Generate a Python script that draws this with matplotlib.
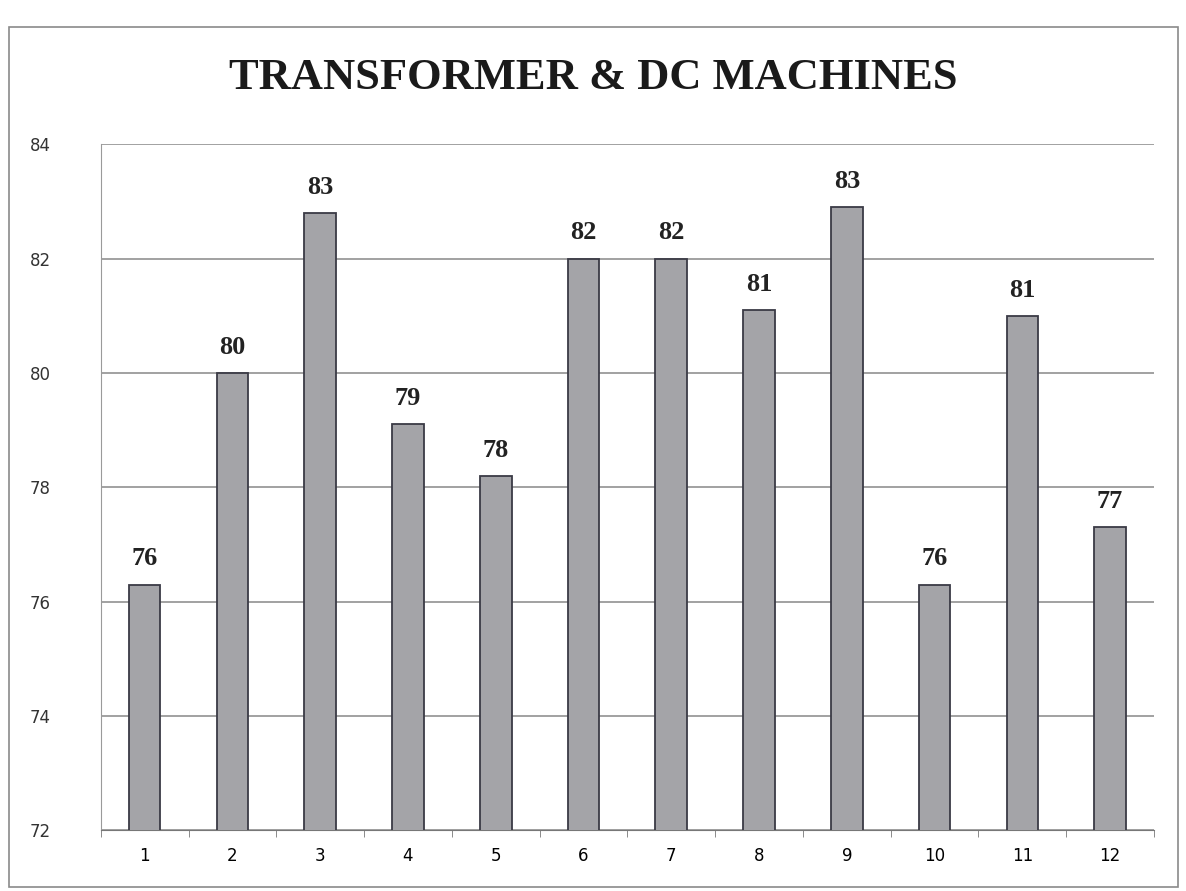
import matplotlib.pyplot as plt
import matplotlib.patches as mpatches
import numpy as np

# values
categories = ["1", "2", "3", "4", "5", "6", "7", "8", "9", "10", "11", "12"]
values = [76.3, 80.0, 82.8, 79.1, 78.2, 82.0, 82.0, 81.1, 82.9, 76.3, 81.0, 77.3]
labels = ["76", "80", "83", "79", "78", "82", "82", "81", "83", "76", "81", "77"]

fig = plt.figure(figsize=(11.86, 8.91), dpi=100)
fig.patches.append(mpatches.Rectangle((0.008, 0.005), 0.985, 0.965, transform=fig.transFigure,
                                      fill=False, edgecolor="#8a8a8a", linewidth=1.2))

ax = fig.add_axes([0.085, 0.068, 0.888, 0.77])
ind = np.arange(len(categories))
ax.bar(ind, values, width=0.36, color="#a4a4a8", edgecolor="#3a3a45",
       linewidth=1.3, zorder=3)

ax.set_ylim(72, 84)
ax.set_xlim(-0.5, len(categories) - 0.5)
ax.set_yticks(np.arange(72, 85, 2))
ax.set_xticks(ind)
ax.set_xticklabels(categories)
ax.set_xticks(np.arange(-0.5, len(categories), 1), minor=True)
ax.tick_params(axis="x", which="major", length=0, labelsize=12, pad=12)
ax.tick_params(axis="x", which="minor", length=5, color="#777777")
ax.tick_params(axis="y", length=0, labelsize=12, pad=36, labelcolor="#333333")
ax.grid(axis="y", color="#9a9a9a", linewidth=1.3, zorder=0)
for s in ["top", "right"]:
    ax.spines[s].set_visible(False)
ax.spines["left"].set_color("#9a9a9a")
ax.spines["bottom"].set_color("#777777")

for i, v in enumerate(values):
    ax.text(ind[i], v + 0.25, labels[i], ha="center", va="bottom", fontsize=19,
            fontweight="bold", family="Liberation Serif", color="#222222")

fig.text(0.5, 0.912, "TRANSFORMER & DC MACHINES", ha="center", va="center",
         fontsize=32, fontweight="bold", family="Liberation Serif", color="#1a1a1a")

plt.savefig("out.png", dpi=100)
